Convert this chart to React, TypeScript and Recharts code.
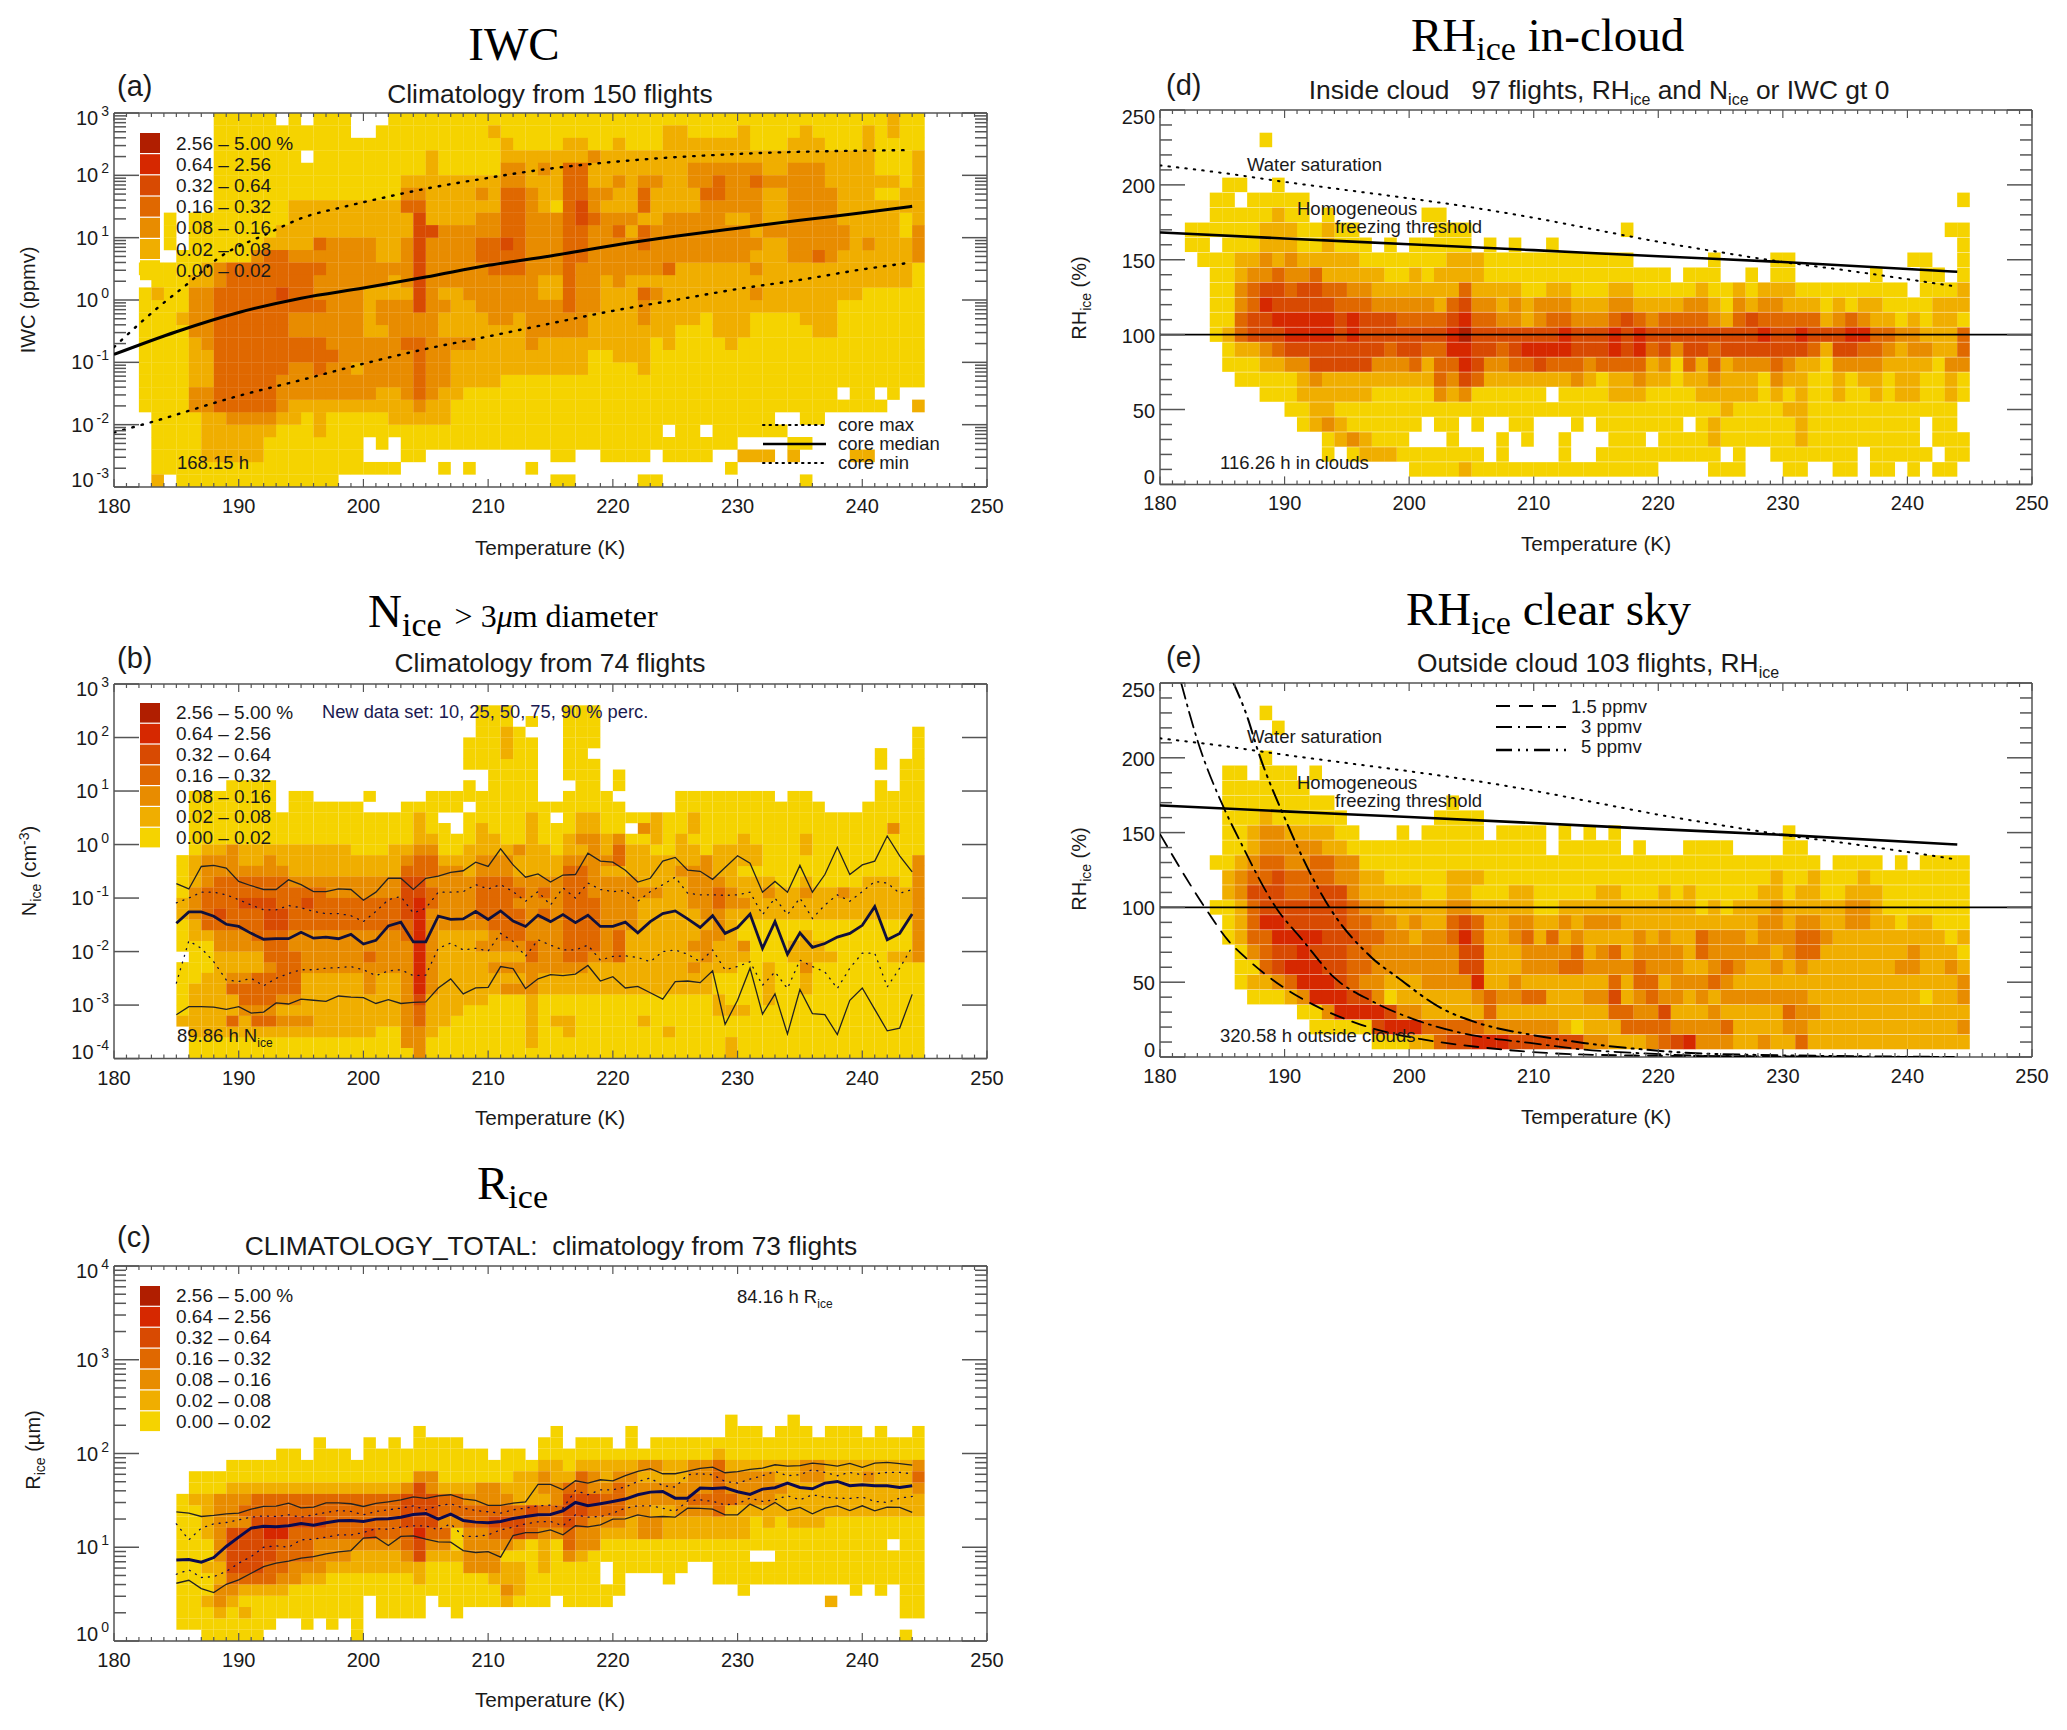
import React from "react";
import { ComposedChart, Line, Scatter, XAxis, YAxis } from "recharts";

// fill colours of the seven percentage classes, lowest first
const levelColors = ["#f5d300", "#f0ae00", "#e88c00", "#e06800", "#d84a02", "#d62800", "#b01e00"];
const legendLabels = ["2.56 – 5.00 %", "0.64 – 2.56", "0.32 – 0.64", "0.16 – 0.32", "0.08 – 0.16", "0.02 – 0.08", "0.00 – 0.02"];

const tempMinorTicks = Array.from({ length: 71 }, (_, i) => 180 + i);
const binTemps = Array.from({ length: 60 }, (_, i) => 185 + i);

// heat map rows, top row first. "col:level" means the level starts at 180+col K and runs on
const iwcRows = [
  "8:1,13:0,14:1,15:0,16:1,19:0,22:1,62:2,63:1",
  "8:1,19:0,21:1,30:2,31:1,44:2,46:1,50:2,51:1,55:2,56:1,60:2,61:1,62:2,63:1",
  "8:1,31:2,32:1,36:2,38:1,40:2,41:1,44:2,51:1,54:2,57:1,60:2,61:1",
  "8:1,15:0,16:1,25:2,26:1,31:2,38:3,39:2,61:1,64:2",
  "8:1,25:2,26:1,31:3,33:2,34:3,35:2,36:4,38:2,46:3,52:2,54:3,57:2,61:1,64:2",
  "8:1,23:2,31:3,33:2,36:4,38:2,40:3,41:2,42:3,44:2,46:3,48:4,49:3,51:4,52:3,54:3,57:2,63:1,64:2",
  "8:1,23:3,25:2,29:3,30:2,31:4,33:3,34:2,36:4,38:3,40:2,42:4,43:2,47:4,49:3,52:2,54:3,58:2,61:1,63:2",
  "8:1,14:2,23:4,25:2,31:4,33:3,34:2,35:1,36:4,37:5,38:3,39:2,42:4,43:2,47:3,52:2,54:3,58:2",
  "4:1,5:0,6:1,14:2,23:2,24:5,25:2,29:3,31:4,33:3,36:4,37:5,38:4,39:3,42:2,44:3,49:2,51:3,52:2,54:3,58:2,63:1,64:2",
  "4:1,5:0,6:1,13:2,24:5,26:3,31:4,33:3,36:4,38:3,40:4,41:2,42:4,43:3,51:2,52:3,58:3,59:2,63:1,64:3",
  "4:1,5:0,6:1,12:2,16:4,17:3,21:2,23:3,24:5,25:3,29:4,31:5,32:4,33:3,36:4,38:3,42:4,43:3,52:2,54:3,58:3,59:2,60:3,61:2,64:3",
  "5:1,11:3,12:4,14:3,21:2,23:3,24:5,25:3,29:4,33:3,36:4,38:3,51:2,54:3,56:4,57:3,58:2,64:3",
  "2:1,7:2,8:3,9:4,17:3,23:3,24:5,25:3,30:4,33:3,36:4,37:3,44:4,45:2,51:3,52:2,64:1",
  "3:1,6:2,8:3,9:4,16:3,22:2,23:3,24:5,25:3,33:3,34:2,36:4,37:3,39:2,40:3,41:2,62:2,64:1",
  "2:1,3:2,4:1,6:3,8:4,13:5,14:4,16:3,20:2,24:5,25:3,26:2,28:3,34:2,36:4,37:3,39:2,42:4,43:3,44:2,51:3,52:2,60:1",
  "2:1,6:3,8:4,17:3,20:2,21:3,24:5,25:3,27:2,29:3,36:4,37:3,39:2,42:3,43:2,58:1",
  "2:1,5:2,6:3,8:4,14:3,20:2,21:3,26:2,30:3,32:2,33:3,38:2,42:3,43:2,47:1,48:2,51:1,55:2,58:1",
  "2:1,6:3,8:4,14:3,20:2,22:3,26:2,33:3,38:2,45:1,48:2,51:1,56:2,58:1",
  "2:1,6:2,7:3,8:4,17:3,23:4,25:3,29:2,33:3,34:2,38:2,43:1,44:2,45:1,49:2,50:1",
  "2:1,6:2,8:4,18:3,24:4,25:3,27:2,38:1,40:2,43:1",
  "2:1,6:2,8:4,14:3,16:4,17:3,19:2,20:3,24:4,25:3,27:2,38:1,42:2,43:1",
  "2:1,6:2,8:4,13:3,24:4,25:3,27:2,31:1",
  "2:1,6:3,8:4,13:3,21:2,23:3,24:4,25:3,26:2,28:1,58:0,59:1,61:0,62:1,63:0",
  "2:1,6:3,8:4,13:3,14:2,24:3,25:2,27:1,62:0,64:2",
  "3:1,7:2,9:3,13:2,15:1,16:2,17:1,22:2,27:1,53:0,55:1,57:0",
  "3:1,7:2,13:1,16:2,17:1,44:0,45:1,47:0,48:1,54:0",
  "3:1,7:2,12:1,20:0,21:1,22:0,23:1,50:0,54:1,56:0",
  "3:1,7:2,12:1,20:0,23:1,25:0,35:1,37:0,39:1,43:0,44:1,48:0,50:2,53:0,54:2,55:0,59:2,61:0",
  "3:1,23:0,26:1,27:0,28:1,29:0,33:1,34:0,49:1,50:0",
  "3:2,4:0,5:1,18:0,35:1,37:0,42:1,44:0,55:1,56:0",
];

const niceRows = [
  "",
  "",
  "29:1,32:0,36:1,39:0",
  "29:1,32:0,33:1,34:0,36:1,39:0",
  "29:1,31:2,32:1,33:0,36:1,39:0,64:1",
  "28:1,31:2,32:1,34:0,36:1,39:0,64:1",
  "28:1,31:2,32:1,34:0,36:1,38:0,61:1,62:0,64:1",
  "28:1,34:0,36:1,39:0,61:1,62:0,63:1",
  "30:1,34:0,36:1,39:0,40:1,41:0,63:1",
  "9:1,13:0,28:1,29:0,30:1,34:0,37:1,39:0,40:1,41:0,61:1,62:0,63:1",
  "6:1,13:0,14:1,16:0,20:1,21:0,25:1,34:0,36:1,40:0,45:1,53:0,54:1,56:0,61:1",
  "6:1,13:0,14:1,20:0,23:1,28:0,29:1,41:0,45:1,57:0,60:1",
  "6:1,24:2,25:1,26:0,28:1,33:2,34:1,35:0,36:1,37:2,39:1,43:2,44:1,46:2,47:1",
  "6:1,24:2,25:1,27:0,28:1,29:2,30:1,33:2,34:1,37:2,39:1,41:0,42:3,43:2,44:1,46:2,47:1,62:3,63:1",
  "6:1,24:2,26:1,29:2,31:1,33:2,34:1,36:2,37:3,39:2,40:3,41:1,43:2,44:1,45:2,46:1,50:2,51:1,55:2,56:1",
  "6:1,7:2,9:3,10:2,19:1,22:2,24:3,26:1,28:2,32:3,33:2,35:1,36:2,38:3,39:2,40:4,41:2,43:1,45:2,47:1,48:2,52:1,55:2,56:1",
  "5:1,6:2,7:3,10:2,12:3,13:2,23:3,24:4,26:2,29:3,32:2,36:3,40:4,41:2,47:3,48:2,52:1,64:3",
  "5:1,6:2,7:3,14:2,23:4,26:3,28:2,29:3,32:2,36:4,38:3,39:2,45:3,48:2,50:1,64:3",
  "5:1,6:2,7:3,8:4,14:3,23:5,25:3,29:4,32:3,36:4,38:3,42:2,46:3,49:2,53:1,55:2,56:1,60:2,63:1,64:3",
  "5:1,6:3,7:4,17:3,23:5,25:4,26:3,29:4,33:3,34:4,35:3,36:4,38:3,44:2,46:3,48:4,49:3,50:2,52:3,53:2,55:3,56:2,58:3,59:2,64:3",
  "5:2,6:3,7:4,10:5,13:4,15:5,16:4,23:5,24:6,25:4,26:3,29:4,32:3,36:4,39:3,42:2,46:3,48:4,49:3,51:2,64:3",
  "5:2,6:3,7:4,8:5,9:4,12:5,14:4,23:5,24:6,25:3,29:4,33:3,34:4,35:3,36:4,39:3,42:2,47:3,49:2,64:3",
  "5:1,6:2,7:4,12:5,14:4,23:4,24:6,25:3,30:4,33:3,36:4,39:3,42:2,48:3,49:2,50:1,64:3",
  "5:1,6:2,8:3,11:4,14:3,23:4,24:6,25:3,26:2,30:3,31:4,33:3,36:4,39:3,40:4,41:2,47:3,49:2,50:1,55:2,56:1,64:3",
  "5:1,8:3,12:4,14:3,23:3,24:6,25:3,26:2,29:3,33:4,34:3,36:4,39:3,40:4,41:2,46:3,48:2,50:3,51:1,54:2,57:1,64:3",
  "5:0,6:1,8:2,12:4,15:3,20:4,21:3,24:6,25:3,26:2,33:4,34:3,36:4,38:3,40:4,41:2,47:3,48:2,51:1,54:2,58:1,62:2,64:3",
  "5:1,8:2,12:3,13:4,15:3,23:3,24:6,25:3,26:2,30:3,36:3,38:2,46:3,47:2,50:1,52:2,53:1,55:3,56:1",
  "5:1,7:2,9:3,11:4,15:2,20:3,21:2,23:3,24:6,25:3,26:2,33:3,34:2,48:1,52:2,53:1,55:2,56:1",
  "5:1,6:2,9:4,15:2,20:3,21:2,23:3,24:6,25:3,26:2,31:3,34:2,48:1,52:2,53:1,55:2,56:1",
  "5:1,6:2,10:4,13:3,15:2,23:3,24:5,25:2,30:1,33:2,34:1,48:2,49:1,52:2,53:1",
  "5:1,6:2,10:3,13:2,23:3,24:4,25:2,28:1,33:2,34:1,48:2,51:1",
  "5:2,9:4,10:2,11:4,13:3,16:2,23:3,24:4,25:2,27:1,33:2,34:1,35:2,37:1,42:2,43:1",
  "6:2,21:1,23:3,25:2,26:1,33:2,34:1,36:2,37:1,44:2,45:1",
  "6:1,23:3,25:1,33:2,34:1,49:2,50:1",
  "6:1,24:3,25:1,49:2,50:1",
];

const riceRows = [
  "49:1,50:0,54:1,55:0",
  "24:1,25:0,35:1,36:0,41:1,42:0,49:1,52:0,53:1,56:0,57:1,60:0,61:1,62:0,64:1",
  "16:1,17:0,20:1,21:0,22:1,23:0,24:1,28:0,34:1,36:0,37:1,40:0,41:1,42:0,43:1",
  "13:1,15:0,16:1,19:0,20:1,30:0,31:1,33:0,34:1,48:2,49:1",
  "9:1,34:2,36:1,37:2,42:3,44:2,46:3,48:4,49:2,55:3,57:2,64:3",
  "6:1,24:3,26:1,32:2,34:3,35:2,37:4,38:3,39:2,40:3,42:2,46:3,48:4,49:3,52:3,53:2,55:3,57:2,60:3,61:2,64:4",
  "6:1,9:2,23:3,24:5,25:3,26:2,29:3,31:2,34:3,36:4,38:3,40:4,41:3,48:4,49:3,54:2,64:3",
  "5:1,6:2,8:3,11:4,23:5,26:4,28:3,32:2,35:3,36:5,39:4,41:3,46:4,50:3,53:2",
  "5:1,7:2,8:3,10:4,23:5,26:4,33:5,34:4,36:5,38:4,41:3,43:2,45:3,48:4,49:2",
  "5:1,7:2,8:3,11:5,17:4,23:5,26:3,28:4,30:5,33:4,36:5,37:4,38:3,41:2,42:3,44:2,51:1,52:2,53:1,54:2,57:1",
  "5:1,7:2,8:3,9:5,12:6,14:4,20:5,21:4,24:6,25:4,27:1,28:3,30:4,32:5,33:4,34:3,36:4,37:3,39:2,42:3,44:2,51:1",
  "5:1,8:3,9:5,13:4,16:3,23:4,24:5,25:3,27:1,28:3,32:2,33:1,34:2,35:1,36:4,37:3,39:1,62:0,63:1",
  "5:1,8:3,9:5,13:4,16:3,19:2,23:3,24:5,25:2,28:3,31:1,34:2,35:1,36:3,37:2,38:1,51:0,53:1",
  "5:1,7:2,9:5,12:4,14:3,17:2,25:1,28:3,31:2,33:1,34:2,35:1,39:0,40:1,46:0,48:1",
  "5:1,8:2,9:4,13:3,15:2,17:1,24:2,25:1,30:2,33:1,39:0,40:1,41:0,44:1,45:0,48:1",
  "5:1,8:3,10:2,14:1,31:3,32:2,33:1,41:0,50:1,51:0,59:1,60:0,61:1,62:0,63:1",
  "5:1,7:2,8:3,9:2,10:1,20:0,21:1,25:0,26:1,31:2,32:1,35:0,36:1,40:0,57:2,58:0,63:1",
  "5:1,8:2,9:1,10:2,11:1,20:0,21:1,25:0,27:1,28:0,63:1",
  "5:1,13:0,15:1,16:0,17:1,18:0,19:1,20:0",
  "7:1,12:0,19:1,20:0,63:1,64:0",
];

// rows for 230, 220, ... 10 % RHice
const rhCloudRows = [
  "8:1,9:0",
  "",
  "",
  "5:1,7:0,9:1,10:0",
  "4:1,6:0,7:1,12:0,64:1",
  "4:1,9:2,10:1,12:0,13:1,14:0,21:1,23:0",
  "2:1,8:2,11:1,13:2,14:1,16:0,22:1,25:0,37:1,38:0,63:1",
  "2:1,4:0,5:1,8:2,11:1,13:2,14:1,17:0,18:1,19:0,20:1,25:0,26:1,27:0,28:1,29:0,31:1,32:0,64:1",
  "3:1,6:2,8:3,9:2,10:3,11:2,16:1,23:2,26:1,38:0,44:1,45:0,49:1,51:0,60:1,62:0,64:1",
  "4:1,6:2,7:3,9:4,10:3,12:4,13:2,18:1,20:2,21:1,22:2,26:1,41:0,42:1,45:0,47:1,48:0,49:1,51:0,57:1,58:0,61:1,63:0,64:1",
  "4:1,6:3,7:4,8:5,10:4,11:5,13:4,15:3,17:2,24:4,25:2,29:1,31:2,33:1,36:2,38:1,43:2,44:1,46:2,47:1,48:2,51:1,60:0,61:1,64:2",
  "4:1,6:3,7:4,8:6,9:5,14:4,17:3,22:2,23:4,24:5,25:3,27:2,28:3,29:2,30:3,33:2,36:3,38:2,42:3,44:2,45:1,46:3,47:2,48:3,50:2,53:1,54:2,55:1,56:2,58:1,62:2",
  "4:1,6:4,7:5,9:6,14:5,15:6,16:5,19:4,23:5,24:6,25:4,27:3,29:2,30:3,31:4,33:3,36:4,37:5,38:4,39:3,40:4,44:3,45:2,46:4,47:5,48:4,53:2,54:3,55:4,56:3,57:2,59:1,60:2,61:1,62:2,64:1",
  "4:1,5:2,6:4,7:5,10:6,14:5,15:6,16:5,23:6,24:7,25:5,32:6,33:5,36:6,37:5,38:6,39:5,48:6,49:5,51:6,52:5,55:6,57:4,59:3,61:2,64:4",
  "5:1,6:2,8:3,9:4,10:5,18:4,19:5,21:4,23:6,25:5,27:4,28:5,29:6,33:5,36:6,37:5,38:6,39:4,40:5,41:3,42:5,44:4,45:5,52:4,53:2,54:5,56:4,58:3,59:2,60:3,62:2,64:4",
  "5:1,8:2,10:3,12:5,17:3,20:4,21:2,22:4,24:6,25:5,26:3,28:4,30:5,31:4,34:3,35:4,39:2,40:3,41:1,42:4,43:2,44:4,45:2,46:3,49:4,50:3,51:2,53:1,54:3,58:2,62:1,63:3",
  "6:1,11:2,12:3,13:2,22:4,23:3,24:5,25:4,26:2,33:3,34:2,35:1,36:2,38:3,39:2,41:1,42:2,44:3,45:2,48:1,49:3,50:2,52:1,54:2,55:1,56:2,58:1,59:2,61:1,63:2,64:1",
  "8:1,11:2,17:1,22:3,23:2,24:3,25:1,31:0,32:1,36:2,39:1,43:2,48:1,49:2,50:1,51:2,52:1,54:2,55:1,57:2,58:1,59:2,61:1,63:2,64:1",
  "10:1,12:2,14:1,45:2,46:1,50:2,52:1,64:0",
  "11:1,12:2,13:3,14:2,15:1,21:0,22:1,24:0,25:1,26:0,28:1,30:0,33:1,34:0,35:1,42:0,43:1,44:2,45:1,51:2,52:1,61:0,62:1,64:0",
  "13:1,14:2,15:3,16:2,17:1,20:0,23:1,24:0,27:1,28:0,29:1,30:0,32:1,33:0,36:1,39:0,40:1,44:2,45:1,51:2,52:1,61:0,62:1",
  "13:1,14:0,15:1,16:2,19:1,26:0,27:1,28:0,32:1,33:0,35:1,45:0,46:1,47:0,49:1,56:0,57:1,62:0,63:1",
  "20:1,24:2,25:1,40:0,44:1,47:0,50:1,52:0,54:1,56:0,57:1,59:0,60:1,61:0,62:1,64:0",
];

const rhClearRows = [
  "8:1,9:0",
  "9:1,10:0",
  "",
  "8:1,9:0",
  "5:1,7:0,8:1,11:0,12:1,13:0",
  "5:1,12:0",
  "5:1,14:0,23:1,24:0",
  "5:1,8:2,9:1,15:0,22:1,26:0",
  "5:1,7:2,8:3,10:2,14:1,16:0,19:1,20:0,21:1,26:0,27:1,31:0,32:1,33:0,34:1,35:0,36:1,37:0,50:1,51:0",
  "5:1,7:2,8:3,13:2,15:1,31:0,32:1,37:0,38:1,39:0,42:1,46:0,50:1,52:0",
  "4:1,6:2,7:3,8:4,10:3,12:4,14:3,16:1,53:0,54:1,58:0,59:1,60:0,61:1",
  "5:2,6:3,7:4,9:5,10:4,14:3,16:2,18:1,23:2,26:1,49:2,50:1,52:2,53:1,56:2,57:1",
  "5:2,6:3,7:5,10:4,12:5,15:3,16:2,21:1,23:2,25:1,28:2,30:1,35:2,37:1,40:2,41:1,42:2,43:1,48:2,50:1,51:2,53:1,55:2,58:1",
  "4:1,6:2,7:4,8:5,15:4,16:3,18:2,23:3,25:2,30:1,32:2,43:1,44:2,45:1,46:2,49:3,50:2,55:3,57:2,58:1",
  "5:1,6:2,7:4,8:6,10:5,15:4,17:3,19:2,20:3,21:2,23:4,24:5,25:4,26:2,28:3,30:2,32:3,33:2,34:3,37:2,48:3,50:2,51:3,53:2,55:3,57:2,59:1,60:2,62:1",
  "5:1,6:2,7:4,9:6,13:5,16:4,18:3,20:2,21:3,23:4,24:6,25:4,26:2,28:3,29:4,30:2,31:4,32:2,33:3,34:2,38:3,39:2,40:3,41:2,43:4,44:3,47:2,48:3,51:4,53:3,54:2,63:1,64:2",
  "6:1,7:3,8:4,9:5,11:6,12:5,15:4,17:3,24:5,26:2,29:3,33:4,34:2,35:3,36:4,37:2,38:3,42:2,43:4,44:3,49:2,50:3,51:4,53:2,60:3,61:2,64:1",
  "6:1,8:4,9:5,10:6,13:5,15:4,17:3,24:5,26:2,29:3,32:4,34:3,38:4,39:3,42:2,44:3,45:4,46:3,47:2,49:3,50:2,51:3,52:2,59:3,61:2,63:3,64:2",
  "6:1,7:2,9:3,10:4,11:6,14:5,15:4,16:3,18:2,21:3,25:6,26:2,28:3,29:2,36:4,37:2,38:4,40:2,41:3,44:4,45:3,46:2,64:3",
  "7:1,10:2,11:3,12:6,15:5,17:3,18:1,19:2,25:3,26:4,27:3,29:4,31:2,34:3,36:5,37:2,38:3,39:4,40:3,42:2,43:3,44:2,45:3,52:2,61:1,62:2,64:3",
  "11:1,13:3,14:6,18:5,19:3,21:2,26:4,27:2,36:4,38:3,40:5,41:2,44:3,45:2,50:4,51:3,53:2",
  "12:1,17:5,18:6,21:4,26:3,32:2,33:1,34:2,37:4,41:3,45:4,46:2,50:3,52:2,64:3",
  "17:1,20:2,22:4,23:5,25:6,28:5,34:3,36:2,39:3,40:4,41:5,42:6,43:3,46:2,48:3,49:2,51:4,52:2",
];

// panel a: core curves
const coreMedianT = [180, 185, 190, 195, 200, 205, 210, 215, 220, 225, 230, 235, 240, 244];
const coreMedian = [0.134, 0.31, 0.63, 1.07, 1.56, 2.33, 3.6, 5.1, 7.5, 10.5, 14.2, 19, 25, 31.8];
const coreMaxT = [180, 182, 183.4, 185.9, 188.5, 192.3, 195.3, 198.3, 201.2, 205, 209.7, 214, 220.3, 230.9, 243.7];
const coreMax = [0.175, 0.41, 0.72, 1.82, 4.9, 11.6, 21.5, 30.8, 42, 61, 89, 121, 166, 224, 254];
const coreMinT = [180, 183, 190, 195, 200, 205, 210, 215, 220, 225, 230, 235, 240, 244];
const coreMin = [0.0075, 0.011, 0.029, 0.052, 0.095, 0.164, 0.26, 0.42, 0.67, 1.0, 1.5, 2.1, 3.1, 4.0];

// panel b: log10 of Nice percentiles per temperature bin
const nice50 = [-1.47,-1.26,-1.26,-1.34,-1.49,-1.53,-1.66,-1.77,-1.76,-1.76,-1.64,-1.75,-1.73,-1.76,-1.68,-1.86,-1.79,-1.52,-1.45,-1.82,-1.82,-1.34,-1.40,-1.39,-1.25,-1.40,-1.24,-1.43,-1.53,-1.32,-1.44,-1.31,-1.46,-1.32,-1.53,-1.53,-1.45,-1.65,-1.44,-1.29,-1.24,-1.39,-1.55,-1.33,-1.66,-1.55,-1.30,-1.94,-1.44,-2.05,-1.65,-1.92,-1.85,-1.73,-1.66,-1.51,-1.16,-1.78,-1.66,-1.30];
const nice90 = [-0.73,-0.83,-0.41,-0.39,-0.44,-0.69,-0.77,-0.84,-0.84,-0.66,-0.75,-0.88,-0.88,-0.83,-0.84,-1.04,-0.89,-0.63,-0.63,-0.84,-0.63,-0.59,-0.52,-0.49,-0.33,-0.41,-0.08,-0.38,-0.61,-0.55,-0.70,-0.57,-0.56,-0.16,-0.31,-0.33,-0.48,-0.70,-0.63,-0.31,-0.24,-0.48,-0.50,-0.65,-0.43,-0.21,-0.35,-0.89,-0.69,-0.89,-0.39,-0.89,-0.56,-0.05,-0.56,-0.38,-0.31,0.16,-0.21,-0.51];
const nice10 = [-3.18,-3.03,-3.03,-3.04,-3.08,-3.03,-3.15,-3.13,-2.96,-2.98,-2.89,-2.91,-2.93,-2.83,-2.85,-2.86,-2.97,-2.90,-2.97,-2.95,-2.94,-2.68,-2.51,-2.79,-2.68,-2.67,-2.28,-2.32,-2.69,-2.51,-2.43,-2.45,-2.42,-2.26,-2.55,-2.47,-2.68,-2.65,-2.77,-2.89,-2.56,-2.55,-2.58,-2.36,-3.36,-2.91,-2.31,-3.17,-2.79,-3.54,-2.71,-3.16,-3.18,-3.55,-2.91,-2.68,-3.08,-3.48,-3.43,-2.80];
const nice75 = [-1.09,-1,-0.89,-0.89,-0.94,-1.03,-1.13,-1.22,-1.22,-1.14,-1.18,-1.25,-1.29,-1.29,-1.33,-1.44,-1.25,-1.03,-0.97,-1.28,-1.19,-0.89,-0.89,-0.88,-0.75,-0.83,-0.75,-0.88,-1.06,-0.88,-1.13,-0.81,-1,-0.72,-0.84,-0.88,-0.86,-1.06,-0.88,-0.75,-0.61,-0.91,-0.94,-0.94,-0.95,-0.94,-0.89,-1.31,-1,-1.31,-1,-1.38,-1.13,-0.94,-1.06,-0.88,-0.69,-0.72,-0.91,-0.84];
const nice25 = [-2.59,-1.80,-1.94,-2.19,-2.53,-2.56,-2.50,-2.64,-2.50,-2.41,-2.34,-2.34,-2.31,-2.30,-2.28,-2.34,-2.45,-2.36,-2.34,-2.45,-2.44,-1.94,-1.84,-1.97,-1.94,-1.99,-1.66,-1.81,-2.09,-1.78,-1.88,-1.97,-1.97,-1.88,-2.16,-2.09,-2.08,-2.11,-2.19,-2,-1.97,-2.05,-2.19,-1.97,-2.34,-2.28,-2.19,-2.63,-2.38,-2.69,-2.16,-2.28,-2.38,-2.69,-2.31,-2.03,-2.03,-2.66,-2.31,-1.91];

// panel c: log10 of Rice percentiles per temperature bin
const rice50 = [.865,.869,.84,.89,1.008,1.108,1.204,1.225,1.218,1.229,1.254,1.236,1.261,1.282,1.286,1.275,1.3,1.303,1.321,1.35,1.36,1.3,1.353,1.286,1.268,1.261,1.275,1.307,1.328,1.346,1.35,1.389,1.478,1.442,1.464,1.489,1.514,1.56,1.588,1.595,1.524,1.524,1.631,1.628,1.635,1.592,1.563,1.62,1.635,1.684,1.638,1.624,1.684,1.702,1.656,1.667,1.656,1.656,1.638,1.656];
const rice90 = [1.378,1.364,1.328,1.339,1.357,1.364,1.407,1.435,1.439,1.471,1.421,1.428,1.474,1.474,1.464,1.435,1.467,1.485,1.506,1.538,1.521,1.549,1.56,1.517,1.499,1.446,1.446,1.471,1.485,1.67,1.67,1.613,1.709,1.684,1.72,1.709,1.763,1.809,1.838,1.784,1.784,1.813,1.841,1.855,1.795,1.806,1.83,1.845,1.88,1.866,1.87,1.898,1.884,1.866,1.895,1.852,1.898,1.905,1.891,1.877];
const rice10 = [.616,.648,.559,.516,.605,.652,.723,.794,.83,.851,.883,.901,.929,.951,.965,1.097,1.108,1.019,1.115,1.122,1.086,1.058,1.054,.965,.944,.954,.894,1.125,1.157,1.157,1.186,1.132,1.229,1.218,1.239,1.3,1.303,1.346,1.321,1.328,1.321,1.417,1.414,1.407,1.346,1.346,1.46,1.4,1.478,1.392,1.425,1.357,1.417,1.442,1.392,1.442,1.389,1.428,1.425,1.371];
const rice75 = [1.25,1.079,1.204,1.25,1.264,1.293,1.321,1.335,1.328,1.346,1.321,1.346,1.371,1.392,1.382,1.346,1.382,1.4,1.417,1.442,1.4,1.442,1.464,1.417,1.392,1.378,1.364,1.4,1.417,1.442,1.449,1.417,1.606,1.56,1.613,1.613,1.642,1.702,1.738,1.656,1.642,1.774,1.784,1.774,1.702,1.684,1.727,1.763,1.809,1.763,1.774,1.827,1.798,1.763,1.798,1.774,1.784,1.798,1.798,1.784];
const rice25 = [.712,.759,.677,.687,.741,.83,.901,1.001,1.015,1.001,1.079,1.086,1.108,1.132,1.132,1.157,1.197,1.193,1.214,1.229,1.229,1.186,1.25,1.115,1.115,1.132,1.186,1.214,1.25,1.271,1.275,1.229,1.346,1.321,1.328,1.364,1.417,1.442,1.442,1.417,1.382,1.496,1.506,1.489,1.453,1.464,1.524,1.489,1.506,1.549,1.506,1.56,1.535,1.524,1.521,1.535,1.489,1.478,1.524,1.542];

// panels d and e: reference curves
const homT = [180, 190, 200, 210, 220, 230, 244];
const homRH = [168.2, 164.2, 160.4, 156.4, 152.3, 148.5, 142];
const satT = [180, 185, 190, 195, 200, 205, 210, 215, 220, 225, 230, 235, 240, 244];
const satRH = [213, 208, 202, 196.5, 191, 185, 178, 170, 162, 155, 148.5, 143, 137, 132];
const iceRH = [100, 100];
const flatT = [180, 250];
const ppmv15T = [180, 183.6, 185.5, 187.2, 190, 192.3, 196.1, 199, 201.2, 206.3, 211, 218.2, 243.7];
const ppmv15 = [149, 100, 77.6, 64, 46, 35, 21.7, 15, 11.6, 6, 2.7, 1, 0];
const ppmv3T = [181.7, 183, 185.1, 186.4, 189.3, 191.5, 194, 197, 200.8, 205.5, 209.7, 214, 218.2, 226.7, 243.7];
const ppmv3 = [250, 211.8, 167, 144.7, 100, 77.6, 53, 37.4, 24, 13.9, 9.4, 5, 2.7, 0.4, 0];
const ppmv5T = [185.9, 187, 187.85, 190, 193.6, 197, 199.1, 202.5, 205.5, 209.7, 214, 219, 224.6, 243.7];
const ppmv5 = [250, 227.5, 205, 160, 100, 66.4, 53, 33, 22.8, 15, 9.4, 4.9, 2, 0];

const pts = (t: number[], y: number[]) => t.map((x, i) => ({ x, y: y[i] }));
const logPts = (y: number[]) => y.map((v, i) => ({ x: binTemps[i], y: Math.pow(10, v) }));

// turn the row strings into one cell list per colour level
function decodeRows(rows: string[], centre: (r: number) => number) {
  const byLevel: { x: number; y: number }[][] = levelColors.map(() => []);
  rows.forEach((row, r) => {
    if (!row) return;
    const runs = row.split(",").map((s) => s.split(":").map(Number));
    runs.forEach(([col, level], i) => {
      const end = i + 1 < runs.length ? runs[i + 1][0] : 65;
      if (level === 0) return;
      for (let c = col; c < end; c++) byLevel[level - 1].push({ x: 180 + c + 0.5, y: centre(r) });
    });
  });
  return byLevel;
}

const logTicks = (lo: number, hi: number, minors: boolean) => {
  const out: number[] = [];
  for (let e = lo; e <= hi; e++) {
    out.push(Math.pow(10, e));
    if (minors && e < hi) for (let k = 2; k < 10; k++) out.push(k * Math.pow(10, e));
  }
  return out;
};
const linTicks = Array.from({ length: 26 }, (_, i) => i * 10);

const INK = "#1a1a1a";
const AXIS = "#555";
const SANS = "'Liberation Sans', Arial, sans-serif";
const SERIF = "'Liberation Serif', 'Times New Roman', serif";

const LEFT_W = 112;
const RIGHT_W = 30;
const TOP_H = 10;
const BOTTOM_H = 40;

interface CurveSpec {
  data: { x: number; y: number }[];
  color?: string;
  width?: number;
  dash?: string;
  smooth?: boolean;
}

interface PanelProps {
  left: number;
  top: number;
  plotW: number;
  plotH: number;
  log: boolean;
  domain: [number, number];
  ticks: number[];
  cells: { x: number; y: number }[][];
  cellW: number;
  cellH: number;
  curves: CurveSpec[];
}

const Panel: React.FC<PanelProps> = ({ left, top, plotW, plotH, log, domain, ticks, cells, cellW, cellH, curves }) => {
  const isMajorY = (v: number) =>
    log ? Math.abs(Math.log10(v) - Math.round(Math.log10(v))) < 1e-6 : v % 50 === 0;

  const cellShape = (color: string) => (p: any) => (
    <rect x={p.cx - cellW / 2} y={p.cy - cellH / 2} width={cellW} height={cellH} fill={color} />
  );

  const leftTick = (p: any) => {
    const v = p.payload.value;
    const major = isMajorY(v);
    const dy = v === domain[1] ? (log ? 12 : 14) : v === domain[0] ? 0 : log ? 7 : 8;
    return (
      <g>
        <line x1={p.x} x2={p.x + (major ? 25 : 12)} y1={p.y} y2={p.y} stroke={AXIS} strokeWidth={1.5} />
        {major && log && (
          <text x={p.x - 5} y={p.y + dy} textAnchor="end" fontFamily={SANS} fontSize={20} fill={INK}>
            10
            <tspan dx={3} dy={-9} fontSize={14}>
              {Math.round(Math.log10(v))}
            </tspan>
          </text>
        )}
        {major && !log && (
          <text x={p.x - 5} y={p.y + dy} textAnchor="end" fontFamily={SANS} fontSize={20} fill={INK}>
            {v}
          </text>
        )}
      </g>
    );
  };

  const rightTick = (p: any) => (
    <line
      x1={p.x}
      x2={p.x - (isMajorY(p.payload.value) ? 25 : 12)}
      y1={p.y}
      y2={p.y}
      stroke={AXIS}
      strokeWidth={1.5}
    />
  );

  const bottomTick = (p: any) => {
    const major = p.payload.value % 10 === 0;
    return (
      <g>
        <line x1={p.x} x2={p.x} y1={p.y} y2={p.y - (major ? 8 : 4)} stroke={AXIS} strokeWidth={1.2} />
        {major && (
          <text x={p.x} y={p.y + 26} textAnchor="middle" fontFamily={SANS} fontSize={20} fill={INK}>
            {p.payload.value}
          </text>
        )}
      </g>
    );
  };

  const topTick = (p: any) => (
    <line
      x1={p.x}
      x2={p.x}
      y1={p.y}
      y2={p.y + (p.payload.value % 10 === 0 ? 8 : 4)}
      stroke={AXIS}
      strokeWidth={1.2}
    />
  );

  // recharts stacks scatter above lines by default, so both z values are set here
  const seriesProps: any = { xAxisId: "b", yAxisId: "l", dataKey: "y", isAnimationActive: false, legendType: "none" };

  return (
    <div style={{ position: "absolute", left: left - LEFT_W, top: top - TOP_H }}>
      <ComposedChart
        width={LEFT_W + plotW + RIGHT_W}
        height={TOP_H + plotH + BOTTOM_H}
        margin={{ top: 0, right: 0, bottom: 0, left: 0 }}
      >
        {cells.map((data, i) => (
          <Scatter key={i} {...seriesProps} data={data} shape={cellShape(levelColors[i])} zIndex={50} />
        ))}
        {curves.map((c, i) => (
          <Line
            key={i}
            {...seriesProps}
            type={c.smooth ? "monotone" : "linear"}
            data={c.data}
            dot={false}
            activeDot={false}
            stroke={c.color ?? "#000"}
            strokeWidth={c.width ?? 1.5}
            strokeDasharray={c.dash}
            strokeLinecap={c.dash ? "round" : "butt"}
            zIndex={700}
          />
        ))}
        <XAxis
          xAxisId="b"
          dataKey="x"
          type="number"
          domain={[180, 250]}
          allowDataOverflow
          ticks={tempMinorTicks}
          interval={0}
          height={BOTTOM_H}
          tickSize={0}
          tickMargin={0}
          tickLine={false}
          tick={bottomTick}
          axisLine={{ stroke: AXIS, strokeWidth: 1.5 }}
        />
        <XAxis
          xAxisId="t"
          orientation="top"
          dataKey="x"
          type="number"
          domain={[180, 250]}
          allowDataOverflow
          ticks={tempMinorTicks}
          interval={0}
          height={TOP_H}
          tickSize={0}
          tickMargin={0}
          tickLine={false}
          tick={topTick}
          axisLine={{ stroke: AXIS, strokeWidth: 1.5 }}
        />
        <YAxis
          yAxisId="l"
          type="number"
          scale={log ? "log" : "linear"}
          domain={domain}
          allowDataOverflow
          ticks={ticks}
          interval={0}
          width={LEFT_W}
          tickSize={0}
          tickMargin={0}
          tickLine={false}
          tick={leftTick}
          axisLine={{ stroke: AXIS, strokeWidth: 1.5 }}
        />
        <YAxis
          yAxisId="r"
          orientation="right"
          type="number"
          scale={log ? "log" : "linear"}
          domain={domain}
          allowDataOverflow
          ticks={ticks}
          interval={0}
          width={RIGHT_W}
          tickSize={0}
          tickMargin={0}
          tickLine={false}
          tick={rightTick}
          axisLine={{ stroke: AXIS, strokeWidth: 1.5 }}
        />
      </ComposedChart>
    </div>
  );
};

const ColorKey: React.FC<{ top: number; pitch: number }> = ({ top, pitch }) => (
  <g>
    {legendLabels.map((label, i) => (
      <g key={label}>
        <rect x={140} y={top + i * pitch} width={20} height={pitch - 1.2} fill={levelColors[levelColors.length - 1 - i]} />
        <text x={176} y={top + i * pitch + pitch / 2 + 6} fontFamily={SANS} fontSize={19} fill={INK}>
          {label}
        </text>
      </g>
    ))}
  </g>
);

const Note: React.FC<{ x: number; y: number; size?: number; children: React.ReactNode; fill?: string }> = ({
  x,
  y,
  size = 18.5,
  children,
  fill = INK,
}) => (
  <text x={x} y={y} fontFamily={SANS} fontSize={size} fill={fill}>
    {children}
  </text>
);

const Title: React.FC<{ x: number; y: number; anchor?: string; size?: number; children: React.ReactNode }> = ({
  x,
  y,
  anchor = "start",
  size = 47,
  children,
}) => (
  <text x={x} y={y} textAnchor={anchor as any} fontFamily={SERIF} fontSize={size} fill="#000">
    {children}
  </text>
);

const Sublabel: React.FC<{ x: number; y: number; children: React.ReactNode }> = ({ x, y, children }) => (
  <text x={x} y={y} textAnchor="middle" fontFamily={SANS} fontSize={26.4} fill={INK}>
    {children}
  </text>
);

const YLabel: React.FC<{ x: number; y: number; children: React.ReactNode }> = ({ x, y, children }) => (
  <text
    transform={`translate(${x},${y}) rotate(-90)`}
    textAnchor="middle"
    fontFamily={SANS}
    fontSize={20}
    fill={INK}
  >
    {children}
  </text>
);

const AxisTitle: React.FC<{ x: number; y: number }> = ({ x, y }) => (
  <text x={x} y={y} textAnchor="middle" fontFamily={SANS} fontSize={20.8} fill={INK}>
    Temperature (K)
  </text>
);

const iwcCells = decodeRows(iwcRows, (r) => Math.pow(10, 3 - 0.2 * (r + 0.5)));
const niceCells = decodeRows(niceRows, (r) => Math.pow(10, 3 - 0.2 * (r + 0.5)));
const riceCells = decodeRows(riceRows, (r) => Math.pow(10, 0.1207 * (19 - r + 0.5)));
const rhCloudCells = decodeRows(rhCloudRows, (r) => 230 - r * 10);
const rhClearCells = decodeRows(rhClearRows, (r) => 230 - r * 10);

const percentileCurves = (p10: number[], p25: number[], p50: number[], p75: number[], p90: number[], ink: string, mid: number): CurveSpec[] => [
  { data: logPts(p10), color: "#222", width: 1.3 },
  { data: logPts(p90), color: "#222", width: 1.3 },
  { data: logPts(p25), color: ink, width: 1.3, dash: "1 6" },
  { data: logPts(p75), color: ink, width: 1.3, dash: "1 6" },
  { data: logPts(p50), color: ink, width: mid },
];

const rhCurves: CurveSpec[] = [
  { data: pts(satT, satRH), width: 2, dash: "1.5 7", smooth: true },
  { data: pts(homT, homRH), width: 2.6, smooth: true },
  { data: pts(flatT, iceRH), width: 1.8 },
];

export default function App() {
  return (
    <div style={{ position: "absolute", left: 0, top: 0, width: 2067, height: 1730, background: "#fff", overflow: "hidden" }}>
      <Panel
        left={114}
        top={113}
        plotW={873}
        plotH={374}
        log
        domain={[1e-3, 1e3]}
        ticks={logTicks(-3, 3, true)}
        cells={iwcCells}
        cellW={12.6}
        cellH={12.7}
        curves={[
          { data: pts(coreMaxT, coreMax), width: 2.4, dash: "1.5 8", smooth: true },
          { data: pts(coreMinT, coreMin), width: 2.4, dash: "1.5 8", smooth: true },
          { data: pts(coreMedianT, coreMedian), width: 3, smooth: true },
        ]}
      />
      <Panel
        left={114}
        top={684}
        plotW={873}
        plotH={374.6}
        log
        domain={[1e-4, 1e3]}
        ticks={logTicks(-4, 3, false)}
        cells={niceCells}
        cellW={12.4}
        cellH={10.9}
        curves={percentileCurves(nice10, nice25, nice50, nice75, nice90, "#10103c", 2.8)}
      />
      <Panel
        left={114}
        top={1266}
        plotW={873}
        plotH={375}
        log
        domain={[1, 1e4]}
        ticks={logTicks(0, 4, true)}
        cells={riceCells}
        cellW={12.4}
        cellH={11.4}
        curves={percentileCurves(rice10, rice25, rice50, rice75, rice90, "#0a0a50", 3)}
      />
      <Panel
        left={1160}
        top={110}
        plotW={872}
        plotH={374.4}
        log={false}
        domain={[0, 250]}
        ticks={linTicks}
        cells={rhCloudCells}
        cellW={12.6}
        cellH={14.5}
        curves={rhCurves}
      />
      <Panel
        left={1160}
        top={683}
        plotW={872}
        plotH={374}
        log={false}
        domain={[0, 250]}
        ticks={linTicks}
        cells={rhClearCells}
        cellW={12.6}
        cellH={14.5}
        curves={[
          ...rhCurves,
          { data: pts(ppmv15T, ppmv15), width: 1.8, dash: "14 9", smooth: true },
          { data: pts(ppmv3T, ppmv3), width: 1.8, dash: "16 6 2 6", smooth: true },
          { data: pts(ppmv5T, ppmv5), width: 2, dash: "16 6 2 6 2 6", smooth: true },
        ]}
      />

      <svg width={2067} height={1730} style={{ position: "absolute", left: 0, top: 0, pointerEvents: "none" }}>
        <Title x={514} y={60} anchor="middle">IWC</Title>
        <Title x={368} y={627}>
          N
          <tspan fontSize={34} dy={9}>ice</tspan>
          <tspan fontSize={32} dy={-9} dx={13}>{"> 3"}</tspan>
          <tspan fontSize={32} fontStyle="italic">μ</tspan>
          <tspan fontSize={32}>m diameter</tspan>
        </Title>
        <Title x={477} y={1199}>
          R
          <tspan fontSize={34} dy={9}>ice</tspan>
        </Title>
        <Title x={1411} y={51}>
          RH
          <tspan fontSize={34} dy={9}>ice</tspan>
          <tspan dy={-9}> in-cloud</tspan>
        </Title>
        <Title x={1406} y={625}>
          RH
          <tspan fontSize={34} dy={9}>ice</tspan>
          <tspan dy={-9}> clear sky</tspan>
        </Title>

        <Note x={117} y={96} size={29}>(a)</Note>
        <Note x={117} y={668} size={29}>(b)</Note>
        <Note x={117} y={1247} size={29}>(c)</Note>
        <Note x={1166} y={95} size={29}>(d)</Note>
        <Note x={1166} y={667} size={29}>(e)</Note>

        <Sublabel x={550} y={103}>Climatology from 150 flights</Sublabel>
        <Sublabel x={550} y={672}>Climatology from 74 flights</Sublabel>
        <Sublabel x={551} y={1255}>{"CLIMATOLOGY_TOTAL:\u00a0 climatology from 73 flights"}</Sublabel>
        <Sublabel x={1599} y={99}>
          {"Inside cloud \u00a0 97 flights, RH"}
          <tspan fontSize={16} dy={6}>ice</tspan>
          <tspan dy={-6}> and N</tspan>
          <tspan fontSize={16} dy={6}>ice</tspan>
          <tspan dy={-6}> or IWC gt 0</tspan>
        </Sublabel>
        <Sublabel x={1598} y={672}>
          Outside cloud 103 flights, RH
          <tspan fontSize={16} dy={6}>ice</tspan>
        </Sublabel>

        <AxisTitle x={550} y={555} />
        <AxisTitle x={550} y={1125} />
        <AxisTitle x={550} y={1707} />
        <AxisTitle x={1596} y={551} />
        <AxisTitle x={1596} y={1124} />

        <YLabel x={35} y={300}>IWC (ppmv)</YLabel>
        <YLabel x={36} y={871}>
          N
          <tspan fontSize={14} dy={5}>ice</tspan>
          <tspan dy={-5}> (cm</tspan>
          <tspan dy={-7} fontSize={14}>-3</tspan>
          <tspan dy={7}>)</tspan>
        </YLabel>
        <YLabel x={40} y={1450}>
          R
          <tspan fontSize={14} dy={5}>ice</tspan>
          <tspan dy={-5}> (µm)</tspan>
        </YLabel>
        <YLabel x={1086} y={298}>
          RH
          <tspan fontSize={14} dy={5}>ice</tspan>
          <tspan dy={-5}> (%)</tspan>
        </YLabel>
        <YLabel x={1086} y={869}>
          RH
          <tspan fontSize={14} dy={5}>ice</tspan>
          <tspan dy={-5}> (%)</tspan>
        </YLabel>

        <ColorKey top={133} pitch={21.2} />
        <ColorKey top={703} pitch={20.8} />
        <ColorKey top={1286} pitch={20.9} />

        <Note x={177} y={469}>168.15 h</Note>
        <line x1={763} x2={826} y1={425} y2={425} stroke="#000" strokeWidth={2} strokeDasharray="1.5 5" strokeLinecap="round" />
        <line x1={763} x2={826} y1={444} y2={444} stroke="#000" strokeWidth={2.6} />
        <line x1={763} x2={826} y1={463} y2={463} stroke="#000" strokeWidth={2} strokeDasharray="1.5 5" strokeLinecap="round" />
        <Note x={838} y={431}>core max</Note>
        <Note x={838} y={450}>core median</Note>
        <Note x={838} y={469}>core min</Note>

        <Note x={322} y={718} size={18.3} fill="#1a1a50">New data set: 10, 25, 50, 75, 90 % perc.</Note>
        <Note x={177} y={1042}>
          89.86 h N
          <tspan fontSize={12} dy={5}>ice</tspan>
        </Note>
        <Note x={737} y={1303}>
          84.16 h R
          <tspan fontSize={12} dy={5}>ice</tspan>
        </Note>

        <Note x={1247} y={171}>Water saturation</Note>
        <Note x={1297} y={215}>Homogeneous</Note>
        <Note x={1335} y={233}>freezing threshold</Note>
        <Note x={1220} y={469}>116.26 h in clouds</Note>

        <Note x={1247} y={743}>Water saturation</Note>
        <Note x={1297} y={789}>Homogeneous</Note>
        <Note x={1335} y={807}>freezing threshold</Note>
        <Note x={1220} y={1042}>320.58 h outside clouds</Note>

        <line x1={1496} x2={1560} y1={706} y2={706} stroke="#000" strokeWidth={2} strokeDasharray="14 9" />
        <line x1={1496} x2={1566} y1={727} y2={727} stroke="#000" strokeWidth={2} strokeDasharray="16 6 2 6" />
        <line x1={1496} x2={1570} y1={750} y2={750} stroke="#000" strokeWidth={2.4} strokeDasharray="16 6 2 6 2 6" />
        <Note x={1571} y={713}>1.5 ppmv</Note>
        <Note x={1581} y={733}>3 ppmv</Note>
        <Note x={1581} y={753}>5 ppmv</Note>
      </svg>
    </div>
  );
}
